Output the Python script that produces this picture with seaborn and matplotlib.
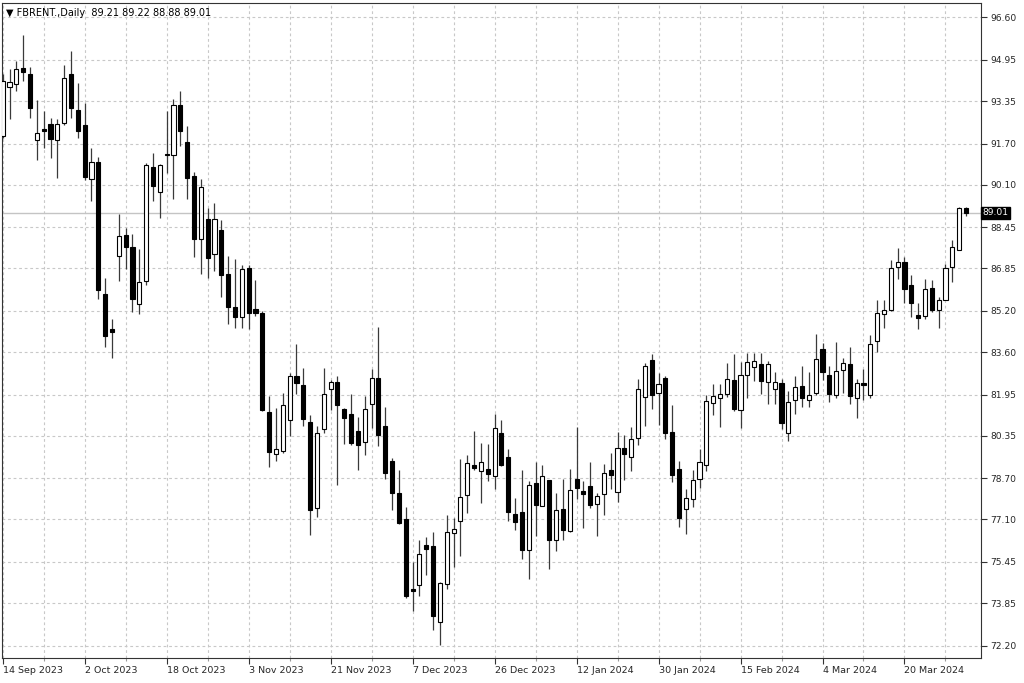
import matplotlib
matplotlib.use("Agg")
import matplotlib.pyplot as plt
import seaborn as sns
import numpy as np
import pandas as pd

# ---- data ----
opens = [91.99, 93.91, 94.00, 94.65, 94.41, 91.84, 92.26, 92.47, 91.82, 92.48,
         94.41, 92.99, 92.44, 90.33, 90.99, 85.84, 84.48, 87.33, 88.14, 87.69,
         85.48, 86.38, 90.79, 89.83, 91.30, 91.25, 93.18, 91.76, 90.46, 88.00,
         88.79, 87.42, 88.33, 86.62, 85.36, 84.96, 86.87, 85.28, 85.13, 81.27,
         79.65, 79.75, 80.96, 82.69, 82.34, 80.88, 77.55, 80.62, 82.15, 82.43,
         81.41, 81.20, 80.53, 80.10, 81.57, 82.60, 80.75, 79.39, 78.11, 77.10,
         74.40, 74.55, 76.10, 76.06, 73.12, 74.60, 76.58, 77.03, 78.04, 79.21,
         78.97, 79.08, 78.78, 80.46, 79.52, 77.33, 77.40, 75.93, 78.52, 77.64,
         78.63, 76.32, 77.51, 76.64, 78.69, 78.20, 78.39, 77.71, 78.09, 79.01,
         78.17, 79.88, 79.53, 80.27, 81.86, 83.31, 82.02, 82.58, 80.49, 79.08,
         77.51, 77.91, 78.68, 79.23, 81.63, 81.80, 81.99, 82.50, 81.37, 82.73,
         83.03, 83.15, 82.45, 82.17, 82.41, 80.46, 81.73, 82.30, 81.76, 82.02,
         83.73, 82.71, 81.95, 82.89, 83.12, 81.80, 82.41, 81.93, 84.03, 85.09,
         85.23, 86.91, 87.11, 86.20, 85.06, 85.02, 86.10, 85.22, 85.64, 86.90,
         87.56, 89.21]
highs = [94.40, 94.58, 94.90, 95.90, 94.68, 93.41, 92.96, 92.70, 92.66, 94.74,
         95.29, 94.06, 93.28, 91.54, 91.17, 86.46, 84.89, 88.95, 88.43, 88.20,
         87.59, 90.93, 91.32, 90.89, 92.96, 93.45, 93.76, 92.38, 90.60, 90.31,
         89.21, 89.40, 88.75, 87.35, 87.20, 87.00, 87.00, 86.42, 85.19, 81.91,
         81.44, 82.02, 82.79, 83.93, 82.99, 81.14, 80.75, 82.97, 82.50, 82.67,
         81.44, 81.98, 81.09, 81.91, 82.95, 84.58, 81.47, 79.49, 79.04, 77.59,
         75.45, 76.32, 76.42, 76.62, 74.66, 77.29, 77.16, 79.45, 79.62, 80.55,
         80.08, 80.05, 81.20, 80.98, 79.82, 77.94, 79.04, 78.61, 79.34, 79.23,
         78.65, 78.13, 78.68, 79.07, 80.70, 78.59, 79.34, 78.13, 79.26, 79.69,
         80.49, 80.40, 80.68, 82.56, 83.18, 83.51, 82.80, 82.67, 81.53, 79.39,
         78.29, 79.01, 79.82, 81.93, 82.37, 82.37, 83.18, 83.51, 83.21, 83.57,
         83.55, 83.57, 83.25, 82.82, 82.56, 82.08, 82.69, 83.05, 82.83, 84.29,
         83.96, 83.05, 84.00, 83.38, 83.81, 82.56, 82.95, 84.25, 85.64, 85.64,
         87.16, 87.65, 87.30, 86.58, 85.51, 86.45, 86.40, 85.74, 87.03, 87.95,
         89.24, 89.22]
lows = [91.90, 92.64, 93.74, 94.13, 92.70, 91.08, 91.54, 91.15, 90.35, 92.44,
        92.70, 91.93, 90.28, 89.46, 85.67, 83.81, 83.38, 86.36, 86.81, 85.17,
        85.09, 86.20, 89.46, 88.82, 90.57, 89.53, 91.60, 89.56, 87.30, 86.62,
        86.49, 86.77, 85.75, 84.70, 84.54, 84.54, 84.50, 85.02, 81.31, 79.14,
        79.36, 79.70, 80.36, 81.99, 80.72, 76.51, 77.20, 80.44, 81.35, 78.42,
        80.04, 79.98, 79.01, 79.62, 80.66, 79.95, 78.69, 77.45, 76.94, 74.05,
        73.56, 74.12, 74.93, 72.80, 72.24, 74.40, 75.25, 75.67, 77.36, 79.01,
        77.75, 78.59, 78.29, 79.17, 77.03, 76.68, 75.57, 74.77, 76.45, 77.62,
        75.19, 75.89, 76.32, 76.61, 77.90, 76.77, 77.55, 76.45, 77.29, 78.29,
        77.76, 78.65, 79.00, 80.01, 80.72, 81.41, 80.76, 80.21, 78.56, 76.80,
        76.55, 77.58, 78.33, 78.97, 81.15, 80.68, 81.86, 81.33, 80.66, 81.82,
        82.47, 81.99, 81.60, 81.60, 80.62, 80.14, 81.18, 81.47, 81.47, 81.95,
        82.50, 81.67, 81.80, 82.02, 81.57, 81.05, 81.73, 81.82, 83.62, 84.54,
        85.19, 86.45, 85.49, 84.97, 84.50, 84.89, 85.15, 84.54, 85.61, 86.32,
        87.56, 88.88]
closes = [94.13, 94.10, 94.61, 94.49, 93.07, 92.12, 92.20, 91.89, 92.47, 94.23,
          93.07, 92.18, 90.40, 90.99, 86.01, 84.22, 84.39, 88.11, 87.69, 85.65,
          86.31, 90.88, 90.05, 90.85, 91.24, 93.19, 92.18, 90.35, 88.00, 90.02,
          87.26, 88.79, 86.58, 85.35, 84.97, 86.81, 85.13, 85.13, 81.37, 79.71,
          79.84, 81.53, 82.69, 82.41, 81.01, 77.46, 80.46, 81.98, 82.45, 81.53,
          81.05, 80.08, 80.01, 81.40, 82.60, 80.40, 78.91, 78.13, 76.97, 74.14,
          74.31, 75.76, 75.97, 73.34, 74.64, 76.61, 76.73, 77.98, 79.30, 79.10,
          79.34, 78.85, 80.66, 79.23, 77.38, 77.00, 75.93, 78.42, 77.65, 78.78,
          76.30, 77.46, 76.71, 78.23, 78.33, 78.09, 77.66, 78.03, 78.91, 78.81,
          79.86, 79.65, 80.23, 82.17, 83.08, 81.93, 82.37, 80.46, 78.81, 77.14,
          77.94, 78.65, 79.32, 81.70, 81.91, 81.98, 82.54, 81.41, 82.73, 83.22,
          83.25, 82.47, 83.12, 82.43, 80.83, 81.67, 82.25, 81.82, 81.93, 83.34,
          82.83, 81.98, 82.86, 83.16, 81.89, 82.41, 82.34, 83.90, 85.13, 85.23,
          86.87, 87.11, 86.07, 85.49, 84.91, 86.06, 85.22, 85.62, 86.87, 87.68,
          89.21, 89.01]

date_labels = ["14 Sep 2023", "2 Oct 2023", "18 Oct 2023", "3 Nov 2023",
               "21 Nov 2023", "7 Dec 2023", "26 Dec 2023", "12 Jan 2024",
               "30 Jan 2024", "15 Feb 2024", "4 Mar 2024", "20 Mar 2024"]
price_ticks = [96.60, 94.95, 93.35, 91.70, 90.10, 88.45, 86.85, 85.20,
               83.60, 81.95, 80.35, 78.70, 77.10, 75.45, 73.85, 72.20]
symbol = "FBRENT.,Daily"

# ---- plot ----
sns.set_theme(style="white")
plt.rcParams['font.family'] = ['DejaVu Sans']

df = pd.DataFrame(dict(o=opens, h=highs, l=lows, c=closes))
df["x"] = np.arange(len(df))
up = df["c"] >= df["o"]

fig = plt.figure(figsize=(10.24, 6.83), dpi=100)
ax = fig.add_axes([2 / 1024, 25 / 683, 979 / 1024, 655 / 683])
ax.set_facecolor("white")

# wicks
ax.vlines(df["x"], df["l"], df["h"], color="#3a3a3a", lw=0.9, zorder=3)
# bodies
bottom = np.minimum(df["o"], df["c"])
height = np.maximum((df["c"] - df["o"]).abs(), 0.04)
ax.bar(df["x"], height, bottom=bottom, width=0.6,
       color=np.where(up, "white", "black"), edgecolor="black",
       linewidth=0.8, zorder=4)

last_close = closes[-1]
ax.axhline(last_close, color="#c4c4c4", lw=1.0, zorder=2)

ax.set_xlim(-0.10, 143.2)
ax.set_ylim(71.72, 97.16)

# y axis on right
ax.yaxis.tick_right()
ax.set_yticks(price_ticks)
ax.set_yticklabels([f"{v:.2f}" for v in price_ticks])
ax.tick_params(axis="y", which="major", direction="out", length=4, width=0.8,
               color="#333333", labelsize=6.6, pad=3, right=True, left=False)

# x axis
major_x = np.arange(0, len(df), 12)[:len(date_labels)]
minor_x = major_x + 6
ax.set_xticks(major_x)
ax.set_xticks(minor_x, minor=True)
ax.set_xticklabels(date_labels)
for lab in ax.get_xticklabels():
    lab.set_horizontalalignment("left")
ax.tick_params(axis="x", which="major", direction="out", length=4, width=0.8,
               color="#333333", labelsize=6.8, pad=2, bottom=True)
ax.tick_params(axis="x", which="minor", direction="out", length=2, width=0.8,
               color="#999999", bottom=True)

ax.grid(True, which="both", axis="x", ls=(0, (2.5, 2.5)), color="#c8c8c8", lw=0.8)
ax.grid(True, which="major", axis="y", ls=(0, (2.5, 2.5)), color="#c8c8c8", lw=0.8)
ax.set_axisbelow(True)

for sp in ax.spines.values():
    sp.set_visible(True)
    sp.set_color("#333333")
    sp.set_linewidth(0.8)

# header text
ax.text(0.004, 0.992,
        f"\u25bc {symbol}  {opens[-1]:.2f} {highs[-1]:.2f} {lows[-1]:.2f} {closes[-1]:.2f}",
        transform=ax.transAxes, ha="left", va="top", fontsize=7, color="black",
        zorder=6)

# last price box
ax.text(1.0015, last_close, f"{last_close:.2f}", transform=ax.get_yaxis_transform(),
        ha="left", va="center", fontsize=6.6, color="white", zorder=7,
        bbox=dict(boxstyle="square,pad=0.18", fc="black", ec="black"),
        clip_on=False)

fig.savefig("out.png", dpi=100, facecolor="white")
